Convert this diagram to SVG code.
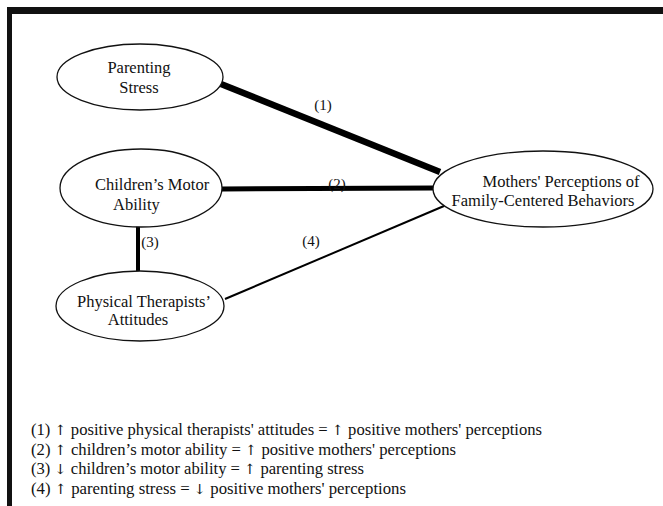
<svg xmlns="http://www.w3.org/2000/svg" width="663" height="506" viewBox="0 0 663 506">
<style>
text{font-family:"Liberation Serif","Times New Roman",serif;fill:#111;}
.n ellipse{fill:#fff;stroke:#111;stroke-width:1.3;}
.n text{font-size:16.5px;}
.lbl{font-size:15px;}
.leg{font-size:16px;}
.ar{font-family:"DejaVu Serif",serif;font-size:14px;}
.c line{stroke:#000;}
</style>
<rect x="0" y="0" width="663" height="506" fill="#fff"/>
<rect x="7" y="7" width="656" height="7" fill="#111"/>
<rect x="7" y="7" width="5" height="499" fill="#111"/>
<g id="connectors" class="c">
<line x1="221" y1="84" x2="440" y2="172" stroke-width="6.5"/>
<line x1="222" y1="189" x2="434" y2="188" stroke-width="5"/>
<line x1="138" y1="226" x2="138" y2="271" stroke-width="4"/>
<line x1="225" y1="299" x2="444" y2="206" stroke-width="2"/>
<text class="lbl" x="323" y="110" text-anchor="middle">(1)</text>
<text class="lbl" x="337" y="189" text-anchor="middle">(2)</text>
<text class="lbl" x="150" y="247" text-anchor="middle">(3)</text>
<text class="lbl" x="311" y="246" text-anchor="middle">(4)</text>
</g>
<g id="parenting-stress" class="n">
<ellipse cx="140" cy="77" rx="83" ry="33"/>
<text x="139" y="73" text-anchor="middle">Parenting</text>
<text x="139" y="93" text-anchor="middle">Stress</text>
</g>
<g id="childrens-motor-ability" class="n">
<ellipse cx="141" cy="188" rx="81" ry="39"/>
<text x="95" y="190">Children’s Motor</text>
<text x="113" y="210">Ability</text>
</g>
<g id="physical-therapists-attitudes" class="n">
<ellipse cx="140" cy="306" rx="84" ry="35"/>
<text x="144" y="307" text-anchor="middle">Physical Therapists’</text>
<text x="138" y="325" text-anchor="middle">Attitudes</text>
</g>
<g id="mothers-perceptions" class="n">
<ellipse cx="543" cy="189" rx="110" ry="38"/>
<text x="561" y="187" text-anchor="middle">Mothers' Perceptions of</text>
<text x="543" y="206" text-anchor="middle">Family-Centered Behaviors</text>
</g>
<g id="legend" class="leg">
<text x="31" y="435" textLength="511" lengthAdjust="spacingAndGlyphs">(1) <tspan class="ar">↑</tspan> positive physical therapists' attitudes = <tspan class="ar">↑</tspan> positive mothers' perceptions</text>
<text x="31" y="454.5" textLength="425" lengthAdjust="spacingAndGlyphs">(2) <tspan class="ar">↑</tspan> children’s motor ability = <tspan class="ar">↑</tspan> positive mothers' perceptions</text>
<text x="31" y="474" textLength="333" lengthAdjust="spacingAndGlyphs">(3) <tspan class="ar">↓</tspan> children’s motor ability = <tspan class="ar">↑</tspan> parenting stress</text>
<text x="31" y="493.5" textLength="375" lengthAdjust="spacingAndGlyphs">(4) <tspan class="ar">↑</tspan> parenting stress =  <tspan class="ar">↓</tspan> positive mothers' perceptions</text>
</g>
</svg>
